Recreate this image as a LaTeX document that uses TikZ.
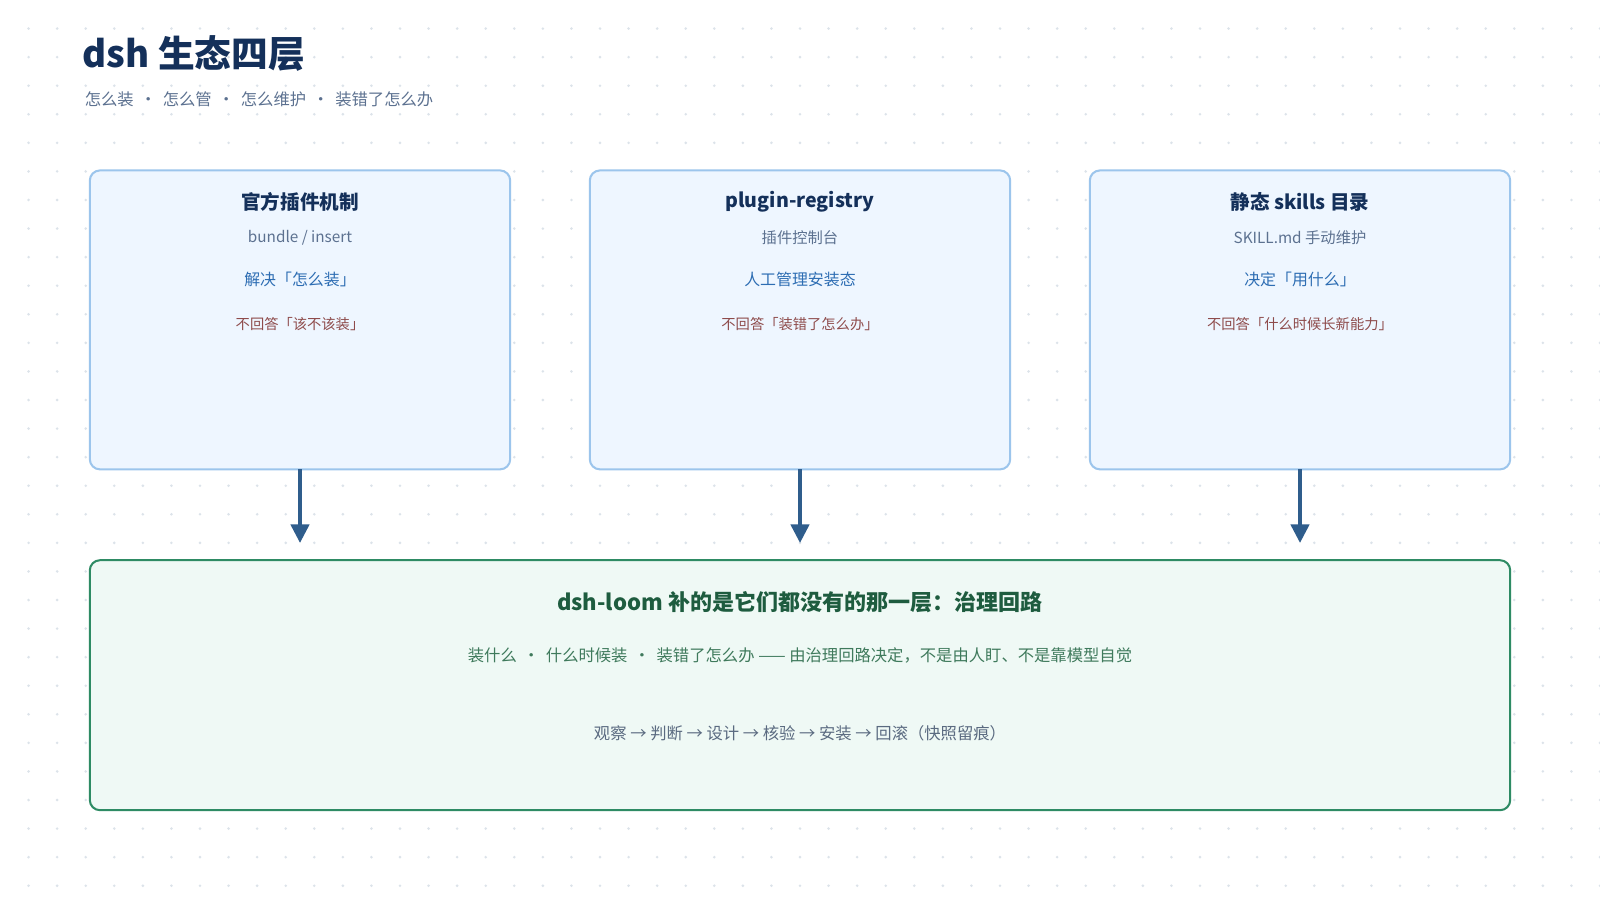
\documentclass[tikz,border=0pt]{standalone}
\usepackage{fontspec}
\setmainfont{Noto Sans CJK SC}
\usetikzlibrary{arrows.meta}
\definecolor{navy}{HTML}{14305A}
\definecolor{subg}{HTML}{5C7190}
\definecolor{boxf}{HTML}{EEF6FF}
\definecolor{boxd}{HTML}{9CC5EC}
\definecolor{blu}{HTML}{2D6DB3}
\definecolor{redd}{HTML}{8E4B4B}
\definecolor{arr}{HTML}{2F5D8C}
\definecolor{grf}{HTML}{EFF9F5}
\definecolor{grd}{HTML}{2E8B64}
\definecolor{grt}{HTML}{1E5C3F}
\definecolor{grx}{HTML}{3F7A5C}
\definecolor{flo}{HTML}{5A6A80}
\definecolor{dot}{HTML}{DCE3EA}
\begin{document}
\begin{tikzpicture}[x=0.5pt,y=-0.5pt,
  card/.style={draw=boxd,fill=boxf,line width=1pt,rounded corners=5pt},
  ctitle/.style={font=\fontsize{9.6}{12}\selectfont\bfseries,text=navy},
  csub/.style={font=\fontsize{7.5}{9}\selectfont,text=subg},
  cblue/.style={font=\fontsize{7.8}{9}\selectfont,text=blu},
  cred/.style={font=\fontsize{7}{9}\selectfont,text=redd},
  flow/.style={draw=arr,line width=1.5pt,-{Triangle[length=9pt,width=9pt]}}]
\useasboundingbox (0,0) rectangle (1568,882);
\fill[white] (0,0) rectangle (1568,882);
\foreach \i in {0,...,56}{\foreach \j in {0,...,31}{\fill[dot] (\i*28+28,\j*28+28) circle (0.7pt);}}
\node[anchor=west,font=\fontsize{18}{22}\selectfont\bfseries,text=navy] (title) at (74,52) {dsh 生态四层};
\node[anchor=west,font=\fontsize{8}{10}\selectfont,text=subg] (sub) at (76,97) {怎么装 \,·\, 怎么管 \,·\, 怎么维护 \,·\, 装错了怎么办};
\foreach \n/\x/\t/\s/\b/\r in {a/294/官方插件机制/{bundle / insert}/解决「怎么装」/不回答「该不该装」,
  b/784/plugin-registry/插件控制台/人工管理安装态/不回答「装错了怎么办」,
  c/1274/静态 skills 目录/SKILL.md 手动维护/决定「用什么」/不回答「什么时候长新能力」}{
  \draw[card] (\x-206,167) rectangle (\x+206,460);
  \node[ctitle] (\n t) at (\x,198) {\t};
  \node[csub] (\n s) at (\x,233) {\s};
  \node[cblue] (\n b) at (\x,274) {\b};
  \node[cred] (\n r) at (\x,318) {\r};
  \coordinate (\n o) at (\x,460);
  \coordinate (\n i) at (\x,532);
  \draw[flow] (\n o) -- (\n i);
}
\draw[draw=grd,fill=grf,line width=1pt,rounded corners=5pt] (88,549) rectangle (1480,794);
\node[font=\fontsize{10.8}{13}\selectfont\bfseries,text=grt] (bt) at (784,590) {dsh-loom 补的是它们都没有的那一层：治理回路};
\node[font=\fontsize{8}{10}\selectfont,text=grx] (bl) at (784,642) {装什么 \,·\, 什么时候装 \,·\, 装错了怎么办 —— 由治理回路决定，不是由人盯、不是靠模型自觉};
\node[font=\fontsize{8}{10}\selectfont,text=flo] (bf) at (784,719) {观察 → 判断 → 设计 → 核验 → 安装 → 回滚（快照留痕）};
\end{tikzpicture}
\end{document}
